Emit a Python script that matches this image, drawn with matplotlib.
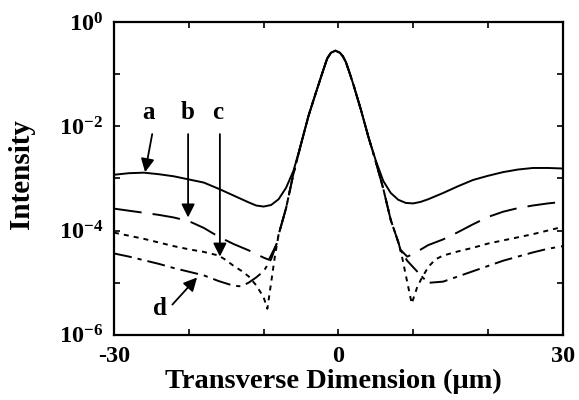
import numpy as np
import matplotlib
matplotlib.use("Agg")
from matplotlib import pyplot as plt

plt.rcParams['font.family'] = ['Liberation Serif', 'DejaVu Serif']
plt.rcParams['font.weight'] = 'bold'
plt.rcParams['mathtext.fontset'] = 'custom'
plt.rcParams['mathtext.rm'] = 'Liberation Serif:bold'
plt.rcParams['lines.scale_dashes'] = False

# intensities, stored as log10 values
# shared central peak (all four curves sit on it)
core_x = [-8, -7, -6, -5, -4, -3, -2, -1.5, -1, -0.4, 0.2, 0.6, 1, 1.5, 2, 3, 4, 5, 6, 7, 8]
core_log = [-4.08, -3.57, -2.9, -2.34, -1.8, -1.35, -0.91, -0.7, -0.59, -0.55, -0.59, -0.66,
            -0.77, -0.98, -1.2, -1.68, -2.2, -2.68, -3.2, -3.8, -4.22]

# curve a (solid) leaves the peak early
a_x = [-30, -28, -26, -24, -22, -20, -18, -16, -14, -12, -11, -10, -9, -8, -7, -6, -5, -4, -3, -2,
       -1.5, -1, -0.4, 0.2, 0.6, 1, 1.5, 2, 3, 4, 5, 6, 7, 8, 9, 10, 11, 12,
       14, 16, 18, 20, 22, 24, 26, 28, 30]
a_log = [-2.93, -2.9, -2.89, -2.92, -2.96, -3.02, -3.08, -3.2, -3.33, -3.46, -3.52, -3.54, -3.51,
         -3.4, -3.18, -2.85, -2.34, -1.8, -1.35, -0.91,
         -0.7, -0.59, -0.55, -0.59, -0.66, -0.77, -0.98, -1.2, -1.68, -2.2, -2.66, -3.05, -3.28,
         -3.41, -3.47, -3.48, -3.45, -3.4,
         -3.28, -3.15, -3.03, -2.95, -2.88, -2.83, -2.8, -2.8, -2.81]

# curve b (long dash)
b_left_x = [-30, -28, -26, -24, -22, -20, -18, -16, -14, -12, -10, -9.3, -8.3]
b_left_log = [-3.58, -3.62, -3.66, -3.7, -3.75, -3.82, -3.95, -4.12, -4.26, -4.38, -4.52, -4.56, -4.27]
b_right_x = [8.3, 9.2, 10, 12, 14, 16, 18, 20, 22, 24, 26, 28, 30]
b_right_log = [-4.37, -4.5, -4.45, -4.28, -4.17, -4.03, -3.88, -3.74, -3.64, -3.57, -3.52, -3.48, -3.45]

# curve c (dotted)
c_left_x = [-30, -28, -26, -24, -22, -20, -18, -16, -15, -14, -13, -12, -11, -10, -9.5, -9, -8.5]
c_left_log = [-4.04, -4.1, -4.16, -4.23, -4.3, -4.36, -4.41, -4.48, -4.57, -4.68, -4.77, -4.88,
              -5.05, -5.28, -5.5, -5.0, -4.5]
c_right_x = [8.5, 9, 9.8, 10.5, 11, 12, 13, 14, 16, 18, 20, 22, 24, 26, 28, 30]
c_right_log = [-4.5, -4.85, -5.4, -5.1, -4.95, -4.7, -4.55, -4.48, -4.4, -4.33, -4.25, -4.19,
               -4.13, -4.07, -4.0, -3.93]

# curve d (dash-dot)
d_left_x = [-30, -28, -26, -24, -22, -20, -18, -16, -14, -13, -12, -11, -10, -9, -8.3]
d_left_log = [-4.44, -4.5, -4.57, -4.64, -4.72, -4.79, -4.86, -4.97, -5.06, -5.07, -5.0, -4.9,
              -4.78, -4.55, -4.27]
d_right_x = [8.3, 9.2, 10.3, 11.4, 12.3, 14, 16, 18, 20, 22, 24, 26, 28, 30]
d_right_log = [-4.37, -4.58, -4.75, -4.92, -5.0, -4.98, -4.88, -4.78, -4.68, -4.58, -4.5, -4.42,
               -4.35, -4.3]

# arrow labels: (text, label pos, arrow start, arrow tip) in data coords (x, log10 I)
arrow_names = ['a', 'b', 'c', 'd']
label_pos = [(-25.4, -1.95), (-20.2, -1.95), (-16.1, -1.95), (-23.8, -5.5)]
arrow_from = [(-24.9, -2.15), (-20.1, -2.15), (-15.85, -2.15), (-22.2, -5.42)]
arrow_to = [(-25.85, -2.88), (-20.1, -3.75), (-15.85, -4.5), (-18.9, -4.9)]

xtick_vals = [-30, -20, -10, 0, 10, 20, 30]
xtick_labels = ['-30', '', '', '0', '', '', '30']
ytick_exp = [0, -1, -2, -3, -4, -5, -6]


def join(left_x, left_log, right_x, right_log):
    x = np.array(left_x + core_x + right_x)
    y = 10.0 ** np.array(left_log + core_log + right_log)
    return x, y


fig = plt.figure(figsize=(5.79, 4.0), dpi=100)
ax = fig.add_axes([0.197, 0.163, 0.775, 0.782])

lw = 1.4
ax.plot(a_x, 10.0 ** np.array(a_log), color='black', lw=lw)
x, y = join(b_left_x, b_left_log, b_right_x, b_right_log)
ax.plot(x, y, color='black', lw=lw, dashes=(20, 8))
x, y = join(c_left_x, c_left_log, c_right_x, c_right_log)
ax.plot(x, y, color='black', lw=lw, dashes=(3.6, 3.6))
x, y = join(d_left_x, d_left_log, d_right_x, d_right_log)
ax.plot(x, y, color='black', lw=lw, dashes=(13, 4.3, 3, 4.3))

ax.set_yscale('log')
ax.set_xlim(-30, 30)
ax.set_ylim(1e-6, 1e0)

ax.set_yticks([10.0 ** e for e in ytick_exp])
ax.set_yticklabels([r'$\mathregular{10^{%d}}$' % e if e % 2 == 0 else '' for e in ytick_exp])
ax.yaxis.set_minor_locator(matplotlib.ticker.NullLocator())
ax.set_xticks(xtick_vals)
ax.set_xticklabels(xtick_labels)

ax.tick_params(direction='in', top=True, right=True, length=4.5, width=1.2,
               labelsize=17.5, pad=8)
for sp in ax.spines.values():
    sp.set_linewidth(1.6)

ax.set_xlabel('Transverse Dimension (μm)', fontsize=20.5, fontweight='bold')
ax.set_ylabel('Intensity', fontsize=21, fontweight='bold')
ax.xaxis.set_label_coords(0.488, -0.108)
ax.yaxis.set_label_coords(-0.176, 0.514)

for name, lp, af, at in zip(arrow_names, label_pos, arrow_from, arrow_to):
    ax.text(lp[0], 10.0 ** lp[1], name, fontsize=18, fontweight='bold',
            ha='center', va='bottom' if name != 'd' else 'center')
    ax.annotate('', xy=(at[0], 10.0 ** at[1]), xytext=(af[0], 10.0 ** af[1]),
                arrowprops=dict(arrowstyle='-|>', color='black', lw=1.3,
                                mutation_scale=20, shrinkA=0, shrinkB=0))

fig.savefig('out.png', dpi=100)
